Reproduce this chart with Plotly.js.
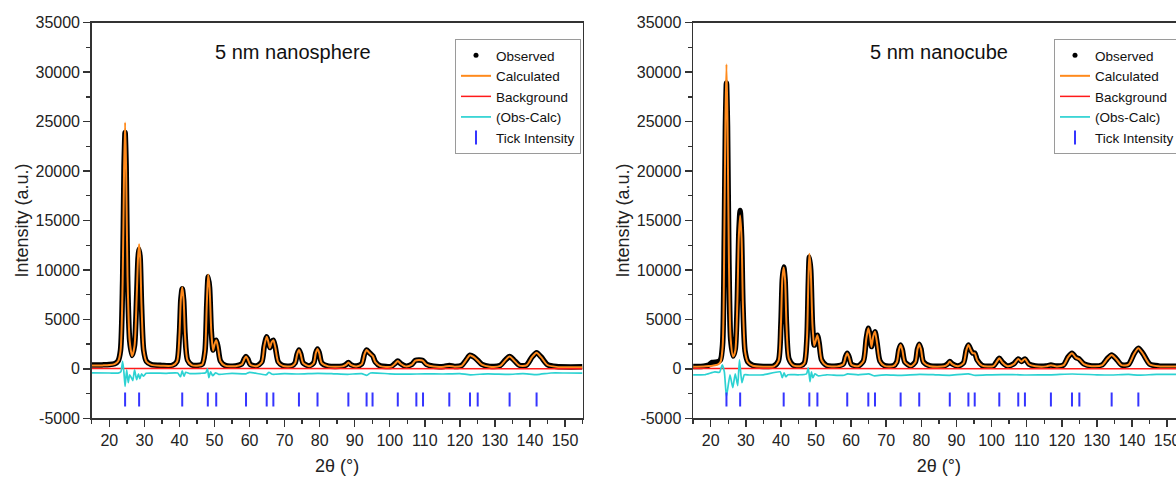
<!DOCTYPE html>
<html>
<head>
<meta charset="utf-8">
<script src="https://cdn.plot.ly/plotly-3.0.1.min.js"></script>
<style>
html, body { margin: 0; padding: 0; overflow: hidden; background: #fff; }
#chart { width: 1200px; height: 477px; }
</style>
</head>
<body>
<div id="chart"></div>
<script>
// ---------- Data: 5 nm nanosphere ----------
const xSphere = [15, 18, 20, 21.5, 22.5, 23.2, 23.8, 24.2, 24.5, 24.8, 25.2, 25.8, 26.5, 27.2, 27.8, 28.2, 28.5, 28.8, 29.2, 29.8, 30.6, 32, 35, 38, 39.3, 40.0, 40.4, 40.8, 41.2, 41.6, 42.3, 43.5, 45, 46.5, 47.3, 47.8, 48.2, 48.6, 49.1, 49.6, 50.0, 50.5, 51.0, 51.7, 53, 56, 57.8, 58.5, 59.0, 59.5, 60.2, 62, 63.5, 64.2, 64.9, 65.4, 65.8, 66.3, 66.8, 67.4, 68.2, 69.5, 72, 73.0, 73.6, 74.1, 74.6, 75.3, 77, 78.3, 78.9, 79.4, 79.9, 80.6, 82.5, 86.5, 87.5, 88.2, 88.9, 90.5, 92.0, 92.8, 93.4, 94.0, 94.6, 95.2, 95.9, 97.3, 100.5, 101.5, 102.3, 103.1, 104.5, 106.3, 107.3, 108.4, 109.4, 110.5, 112.5, 115.5, 117.0, 118.5, 120.5, 121.8, 122.9, 124.0, 125.0, 126.3, 128.5, 131.5, 133.0, 134.2, 135.4, 137.0, 139.0, 140.6, 141.9, 143.2, 145.0, 147.5, 155];
const obsSphere = [380, 400, 430, 520, 800, 1900, 9000, 20500, 23900, 20500, 9500, 2900, 1350, 2400, 7300, 11200, 12100, 11200, 6400, 1900, 750, 430, 350, 360, 750, 3500, 7000, 8100, 7000, 3500, 900, 400, 340, 470, 1800, 6500, 9300, 8200, 3800, 1900, 2500, 2900, 2200, 800, 350, 300, 500, 1000, 1250, 1000, 450, 300, 700, 2300, 3250, 2700, 2150, 2700, 2900, 2100, 700, 330, 300, 600, 1500, 1900, 1500, 600, 300, 600, 1600, 2000, 1600, 600, 280, 280, 430, 650, 430, 280, 500, 1500, 1900, 1700, 1500, 1300, 700, 300, 260, 550, 800, 550, 280, 450, 850, 900, 850, 450, 260, 240, 330, 250, 340, 900, 1380, 1200, 900, 450, 250, 330, 900, 1240, 900, 360, 380, 1200, 1640, 1200, 420, 230, 200];
const calcSphere = [330, 350, 380, 480, 760, 1850, 8800, 20000, 24900, 20000, 9300, 2850, 1300, 2350, 7200, 11300, 12600, 11300, 6300, 1850, 720, 400, 320, 330, 720, 3450, 7000, 8250, 7000, 3450, 870, 370, 310, 440, 1750, 6450, 9550, 8200, 3750, 1850, 2450, 2900, 2150, 770, 320, 270, 470, 980, 1250, 980, 420, 270, 670, 2280, 3250, 2680, 2120, 2680, 2900, 2080, 670, 300, 270, 570, 1480, 1900, 1480, 570, 270, 570, 1580, 2000, 1580, 570, 250, 250, 400, 640, 400, 250, 470, 1480, 1900, 1680, 1480, 1280, 670, 270, 230, 520, 790, 520, 250, 420, 830, 890, 830, 420, 230, 210, 300, 220, 310, 880, 1380, 1180, 880, 420, 220, 300, 880, 1240, 880, 330, 350, 1180, 1640, 1180, 390, 200, 170];
const bgX = [15, 60, 110, 155];
const bgSphere = [40, 20, 10, 0];
const diffXSphere = [15, 20, 22.5, 23.3, 23.8, 24.2, 24.5, 24.95, 25.4, 25.8, 26.3, 26.7, 27.2, 27.8, 28.3, 28.7, 29.2, 29.7, 30.5, 33, 36, 39.5, 40.3, 40.8, 41.3, 41.8, 43, 46, 47.5, 48.0, 48.4, 48.9, 49.5, 50.3, 51.2, 55, 59, 60, 64.8, 65.5, 66.5, 70, 74, 79.5, 84, 88, 92, 93.5, 94.5, 100, 105, 110, 115, 120, 123, 128, 134, 138, 142, 146, 150, 155];
const diffSphere = [-400, -420, -430, -300, 750, -500, -1770, -100, -1400, -600, -900, -1200, -100, -1100, -500, -1000, -500, -750, -450, -430, -450, -420, -800, -200, -750, -350, -480, -450, -400, 0, -900, -300, -700, -400, -550, -450, -500, -350, -600, -350, -550, -480, -520, -450, -500, -550, -480, -650, -420, -500, -540, -500, -520, -480, -600, -500, -560, -480, -580, -420, -420, -430];

// ---------- Data: 5 nm nanocube ----------
const xCube = [15, 18, 19.5, 20.5, 22.0, 22.8, 23.4, 23.9, 24.2, 24.5, 24.8, 25.2, 25.7, 26.4, 27.0, 27.6, 28.0, 28.4, 28.8, 29.2, 29.8, 30.6, 32, 35, 38, 39.3, 40.0, 40.4, 40.8, 41.2, 41.6, 42.3, 43.5, 45.5, 46.7, 47.4, 47.8, 48.1, 48.5, 49.0, 49.5, 50.0, 50.4, 50.9, 51.6, 53, 56, 57.8, 58.4, 58.9, 59.4, 60.1, 62, 63.5, 64.3, 64.9, 65.4, 65.8, 66.3, 66.8, 67.4, 68.2, 69.5, 72, 73.0, 73.6, 74.1, 74.6, 75.3, 77, 78.3, 78.9, 79.4, 79.9, 80.6, 82.5, 86.5, 87.5, 88.1, 88.8, 90.5, 92.0, 92.8, 93.4, 94.1, 94.6, 95.2, 95.9, 97.3, 100.5, 101.4, 102.2, 103.0, 104.5, 106.3, 107.6, 108.5, 109.5, 110.6, 112.5, 115.5, 116.9, 118.5, 120.5, 121.8, 122.9, 124.0, 125.0, 126.3, 128.5, 131.5, 133.0, 134.2, 135.4, 137.0, 139.0, 140.6, 141.8, 143.1, 145.0, 147.5, 155];
const obsCube = [250, 270, 400, 650, 700, 900, 2500, 14000, 24500, 28900, 24500, 11000, 3000, 1300, 2000, 7000, 13500, 16000, 13500, 6500, 1800, 700, 350, 250, 280, 800, 4500, 9000, 10300, 9000, 4500, 1000, 380, 300, 600, 3000, 8500, 11300, 10000, 4500, 2400, 3000, 3400, 2600, 900, 350, 280, 500, 1200, 1580, 1200, 450, 300, 800, 3000, 4100, 3300, 2250, 3300, 3760, 2600, 800, 330, 300, 700, 1900, 2400, 1900, 700, 300, 700, 2000, 2500, 2000, 700, 300, 300, 500, 740, 500, 300, 600, 1900, 2400, 1900, 1600, 1600, 900, 350, 300, 700, 1070, 700, 300, 500, 1000, 750, 1000, 500, 300, 280, 380, 280, 400, 1200, 1580, 1150, 980, 500, 300, 400, 1050, 1410, 1050, 400, 450, 1550, 2080, 1550, 500, 300, 280];
const calcCube = [220, 240, 280, 320, 420, 700, 2200, 14000, 25000, 30800, 25000, 11000, 3000, 1250, 1800, 6800, 13200, 15500, 13200, 6400, 1750, 670, 320, 220, 250, 770, 4450, 9000, 10250, 9000, 4450, 970, 350, 270, 570, 2950, 8500, 11650, 10000, 4450, 2350, 2950, 3400, 2550, 870, 320, 250, 470, 1180, 1580, 1180, 420, 270, 770, 2980, 4100, 3280, 2220, 3280, 3760, 2580, 770, 300, 270, 670, 1880, 2400, 1880, 670, 270, 670, 1980, 2500, 1980, 670, 270, 270, 470, 740, 470, 270, 570, 1880, 2400, 1880, 1580, 1580, 870, 320, 270, 670, 1070, 670, 270, 470, 1000, 730, 1000, 470, 270, 250, 370, 250, 370, 1180, 1580, 1130, 960, 470, 270, 370, 1030, 1410, 1030, 370, 420, 1530, 2080, 1530, 470, 270, 250];
const bgCube = [40, 20, 10, 0];
const diffXCube = [15, 18.3, 21.2, 22.5, 23.3, 23.9, 24.5, 25.5, 26.3, 27.0, 27.7, 28.2, 28.9, 29.6, 31, 35, 39.8, 40.4, 40.9, 41.4, 42, 45, 47.3, 47.8, 48.3, 48.7, 49.1, 49.7, 50.6, 53, 58, 59, 62, 65, 66.5, 70, 74, 79.5, 84, 88, 93.4, 95, 100, 106, 110, 117, 123, 130, 134, 139, 142, 147, 155];
const diffCube = [-600, -600, -300, -350, 400, -300, -2800, -600, -1900, -500, -1700, 900, -1400, -600, -620, -600, -300, -900, -400, -800, -600, -600, -500, 100, -1300, -300, -900, -500, -700, -600, -650, -500, -600, -500, -700, -600, -650, -550, -600, -650, -500, -650, -600, -580, -620, -600, -520, -600, -620, -560, -640, -560, -560];

// ---------- Reflection positions (Tick Intensity) ----------
const tickPosSphere = [24.5, 28.5, 40.8, 48.1, 50.5, 59.0, 64.9, 66.8, 74.1, 79.4, 88.2, 93.4, 95.1, 102.3, 107.6, 109.5, 117.0, 122.9, 125.1, 134.2, 141.9];
const tickPosCube = [24.5, 28.4, 40.8, 48.1, 50.4, 58.9, 64.9, 66.8, 74.1, 79.4, 88.1, 93.4, 95.2, 102.2, 107.6, 109.5, 116.9, 122.9, 125.0, 134.2, 141.8];
const tickLevel = -3100;

// ---------- Axis tick labels ----------
const yTickVals = [-5000, 0, 5000, 10000, 15000, 20000, 25000, 30000, 35000];
const yTickText = ['-5000', '0', '5000', '10000', '15000', '20000', '25000', '30000', '35000'];
const panelTitles = ['5 nm nanosphere', '5 nm nanocube'];
const legendNames = ['Observed', 'Calculated', 'Background', '(Obs-Calc)', 'Tick Intensity'];

// ---------- Styles ----------
const W = 1200, H = 477;
const FONT = 'Liberation Sans, Arial, sans-serif';
const C_OBS = '#000000', C_CALC = '#ff8a1c', C_BG = '#ff1a1a', C_DIFF = '#2cd2d2', C_TICK = '#3535ff';

function panelTraces(xa, ya, leg, x, obs, calc, bgv, dx, dv, tp) {
  return [
    {x: x, y: obs, xaxis: xa, yaxis: ya, type: 'scatter', mode: 'lines', showlegend: false,
     line: {color: C_OBS, width: 5.5, shape: 'spline', smoothing: 0.7}, hoverinfo: 'skip'},
    {x: [null], y: [null], xaxis: xa, yaxis: ya, type: 'scatter', mode: 'markers', name: legendNames[0], legend: leg,
     marker: {color: C_OBS, size: 5}},
    {x: x, y: calc, xaxis: xa, yaxis: ya, type: 'scatter', mode: 'lines', name: legendNames[1], legend: leg,
     line: {color: C_CALC, width: 2, shape: 'spline', smoothing: 0.7}},
    {x: bgX, y: bgv, xaxis: xa, yaxis: ya, type: 'scatter', mode: 'lines', name: legendNames[2], legend: leg,
     line: {color: C_BG, width: 1.5}},
    {x: dx, y: dv, xaxis: xa, yaxis: ya, type: 'scatter', mode: 'lines', name: legendNames[3], legend: leg,
     line: {color: C_DIFF, width: 1.7, shape: 'spline', smoothing: 0.5}},
    {x: tp, y: tp.map(() => tickLevel), xaxis: xa, yaxis: ya, type: 'scatter', mode: 'markers', name: legendNames[4], legend: leg,
     marker: {symbol: 'line-ns-open', size: 10, color: C_TICK, line: {color: C_TICK, width: 2}}}
  ];
}

const data = [].concat(
  panelTraces('x', 'y', 'legend', xSphere, obsSphere, calcSphere, bgSphere, diffXSphere, diffSphere, tickPosSphere),
  panelTraces('x2', 'y2', 'legend2', xCube, obsCube, calcCube, bgCube, diffXCube, diffCube, tickPosCube)
);

const yDom = [(H - 418.3) / H, (H - 22.7) / H];
function xAxis(dom, anchor) {
  return {
    domain: dom, anchor: anchor, range: [15, 155], tickmode: 'linear', tick0: 0, dtick: 10,
    showline: true, mirror: true, linecolor: '#333', linewidth: 1.6,
    ticks: 'outside', ticklen: 7, tickwidth: 1.5, tickcolor: '#333',
    minor: {tickmode: 'linear', tick0: 0, dtick: 5, ticks: 'outside', ticklen: 4, tickwidth: 1.3, tickcolor: '#333'},
    showgrid: false, zeroline: false,
    tickfont: {family: FONT, size: 16, color: '#222'},
    title: {text: '2θ (°)', font: {family: FONT, size: 18, color: '#222'}, standoff: 11}
  };
}
function yAxis(anchor) {
  return {
    domain: yDom, anchor: anchor, range: [-5000, 35000], tickmode: 'array', tickvals: yTickVals, ticktext: yTickText,
    showline: true, mirror: true, linecolor: '#333', linewidth: 1.6,
    ticks: 'outside', ticklen: 7, tickwidth: 1.5, tickcolor: '#333',
    minor: {tickmode: 'linear', tick0: 0, dtick: 2500, ticks: 'outside', ticklen: 4, tickwidth: 1.3, tickcolor: '#333'},
    showgrid: false, zeroline: false,
    tickfont: {family: FONT, size: 16, color: '#222'},
    title: {text: 'Intensity (a.u.)', font: {family: FONT, size: 18, color: '#222'}, standoff: 2}
  };
}
function legendBox(xpx) {
  return {
    x: xpx / W, y: (H - 39) / H, xanchor: 'left', yanchor: 'top',
    bgcolor: '#fff', bordercolor: '#9a9a9a', borderwidth: 1,
    font: {family: FONT, size: 13.5, color: '#111'}, tracegroupgap: 0, itemwidth: 30
  };
}

const layout = {
  width: W, height: H,
  margin: {l: 0, r: 0, t: 0, b: 0},
  paper_bgcolor: '#fff', plot_bgcolor: '#fff',
  font: {family: FONT, color: '#222'},
  showlegend: true,
  xaxis: xAxis([91.8 / W, 582.5 / W], 'y'),
  yaxis: yAxis('x'),
  xaxis2: xAxis([693.1 / W, 1184.7 / W], 'y2'),
  yaxis2: yAxis('x2'),
  legend: legendBox(455),
  legend2: legendBox(1054),
  annotations: [
    {xref: 'paper', yref: 'paper', x: 293 / W, y: (H - 52) / H, xanchor: 'center', yanchor: 'middle',
     text: panelTitles[0], showarrow: false, font: {family: FONT, size: 20, color: '#111'}},
    {xref: 'paper', yref: 'paper', x: 939 / W, y: (H - 52) / H, xanchor: 'center', yanchor: 'middle',
     text: panelTitles[1], showarrow: false, font: {family: FONT, size: 20, color: '#111'}}
  ]
};

Plotly.newPlot('chart', data, layout, {displayModeBar: false, staticPlot: true});
</script>
</body>
</html>
